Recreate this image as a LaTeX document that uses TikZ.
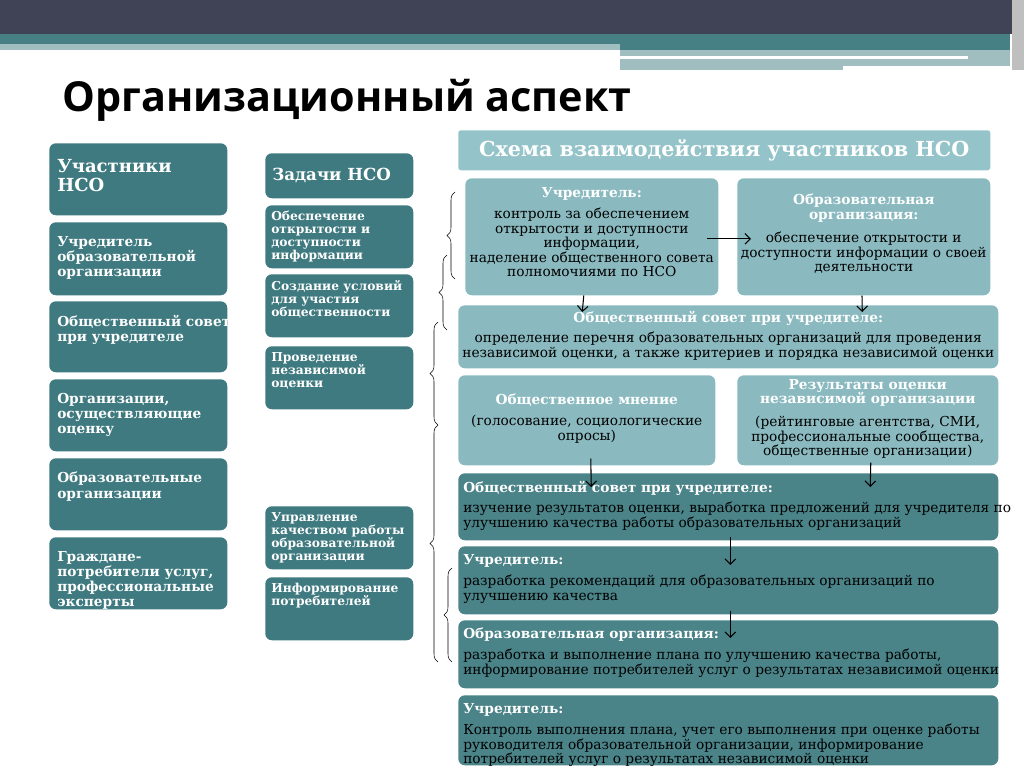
\documentclass[tikz,border=0pt]{standalone}
\usepackage{fontspec}
\setmainfont{DejaVu Serif}
\newfontfamily\titlefont{Open Sans}
\usetikzlibrary{arrows.meta,decorations.pathreplacing,calc}
\definecolor{topbar}{RGB}{64,66,86}
\definecolor{tealband}{RGB}{70,128,132}
\definecolor{paleband}{RGB}{160,190,192}
\definecolor{darkteal}{RGB}{63,122,128}
\definecolor{lightteal}{RGB}{138,186,192}
\definecolor{headteal}{RGB}{148,196,201}
\definecolor{midteal}{RGB}{74,131,136}
\tikzset{
  box/.style={rounded corners=5pt, minimum width=#1*0.75pt, inner sep=0pt, anchor=north west},
  darkbox/.style={box=#1, fill=darkteal},
  lightbox/.style={box=#1, fill=lightteal},
  lowbox/.style={box=#1, fill=midteal},
  tall/.style={minimum height=#1*0.75pt},
  wtitle/.style={text=white, font=\bfseries\fontsize{10.3}{10.8}\selectfont, align=left, anchor=north west, inner sep=0pt},
  ctitle/.style={text=white, font=\bfseries\fontsize{10.3}{10.8}\selectfont, align=center, anchor=north, inner sep=0pt},
  body/.style={text=black, font=\fontsize{10.3}{10.8}\selectfont, inner sep=0pt},
  flow/.style={-{Straight Barb[length=4pt]}, thick},
  bracket/.style={decorate, decoration={brace, amplitude=6pt}, thin}
}
\begin{document}
\begin{tikzpicture}[x=0.75pt, y=-0.75pt]
  \useasboundingbox (0,0) rectangle (1024,768);
  % Top bars
  \fill[topbar] (0,0) rectangle (1024,34);
  \fill[tealband] (0,34) rectangle (1010,50);
  \fill[paleband] (0,44) rectangle (620,50);
  \fill[paleband] (620,50) rectangle (1010,70);
  \fill[white] (620,56) rectangle (968,59);
  \fill[white] (843,66) rectangle (1010,70);
  \fill[gray!50] (1012,0) rectangle (1024,70);

  % Title
  \node[font=\titlefont\bfseries\fontsize{31}{34}\selectfont, anchor=west] (title) at (58,100) {Организационный аспект};

  % Left column: participants
  \node[darkbox=178, tall=72] (p0) at (49,143) {};
  \node[wtitle, font=\bfseries\fontsize{13.5}{14}\selectfont] at ($(p0.north west)+(8,16)$) {Участники\\НСО};
  \foreach \y/\h/\txt [count=\i] in {
      222/73/{Учредитель\\образовательной\\организации},
      301/71/{Общественный совет\\при учредителе},
      379/72/{Организации,\\осуществляющие\\оценку},
      458/72/{Образовательные\\организации},
      537/72/{Граждане-\\потребители услуг,\\профессиональные\\эксперты}} {
    \node[darkbox=178, tall=\h] (p\i) at (49,\y) {};
    \node[wtitle, font=\bfseries\fontsize{10.3}{11.3}\selectfont] at ($(p\i.north west)+(8,14)$) {\txt};
  }

  % Middle column: tasks
  \node[darkbox=148, tall=45] (t0) at (265,153) {};
  \node[wtitle, font=\bfseries\fontsize{12.5}{13}\selectfont, anchor=west] at ($(t0.west)+(7,0)$) {Задачи НСО};
  \foreach \y/\txt [count=\i] in {
      205/{Обеспечение\\открытости и\\доступности\\информации},
      274/{Создание условий\\для участия\\общественности},
      346/{Проведение\\независимой\\оценки},
      506/{Управление\\качеством работы\\образовательной\\организации},
      577/{Информирование\\потребителей}} {
    \node[darkbox=148, tall=63] (t\i) at (265,\y) {};
    \node[wtitle, font=\bfseries\fontsize{9.2}{9.7}\selectfont] at ($(t\i.north west)+(6,6)$) {\txt};
  }

  % Right scheme
  \node[box=532, tall=40, fill=headteal, rounded corners=2pt] (head) at (458,130) {};
  \node[text=white, font=\bfseries\fontsize{15.5}{16}\selectfont] at (head.center) {Схема взаимодействия участников НСО};

  \node[lightbox=253, tall=117] (u1) at (465,178) {};
  \node[ctitle] at ($(u1.north)+(0,9)$) {Учредитель:};
  \node[body, align=center, anchor=north] at ($(u1.north)+(0,30)$) {контроль за обеспечением\\открытости и доступности\\информации,\\наделение общественного совета\\полномочиями по НСО};

  \node[lightbox=253, tall=117] (eo1) at (737,178) {};
  \node[ctitle] at ($(eo1.north)+(0,16)$) {Образовательная\\организация:};
  \node[body, align=center, anchor=north] at ($(eo1.north)+(0,54)$) {обеспечение открытости и\\доступности информации о своей\\деятельности};

  \node[lightbox=540, tall=63] (os1) at (458,305) {};
  \node[ctitle] at ($(os1.north)+(0,6)$) {Общественный совет при учредителе:};
  \node[body, align=center, anchor=north] at ($(os1.north)+(0,27)$) {определение перечня образовательных организаций для проведения\\независимой оценки, а также критериев и порядка независимой оценки};

  \node[lightbox=257, tall=90] (om) at (458,375) {};
  \node[ctitle] at ($(om.north)+(0,19)$) {Общественное мнение};
  \node[body, align=center, anchor=north] at ($(om.north)+(0,40)$) {(голосование, социологические\\опросы)};

  \node[lightbox=261, tall=90] (res) at (737,375) {};
  \node[ctitle] at ($(res.north)+(0,4)$) {Результаты оценки\\независимой организации};
  \node[body, align=center, anchor=north] at ($(res.north)+(0,41)$) {(рейтинговые агентства, СМИ,\\профессиональные сообщества,\\общественные организации)};

  % Lower dark boxes
  \foreach \y/\h/\ttl/\txt [count=\i] in {
      473/67/{Общественный совет при учредителе:}/{изучение результатов оценки, выработка предложений для учредителя по\\улучшению качества работы образовательных организаций},
      546/68/{Учредитель:}/{разработка рекомендаций для образовательных организаций по\\улучшению качества},
      620/68/{Образовательная организация:}/{разработка и выполнение плана по улучшению качества работы,\\информирование потребителей услуг о результатах независимой оценки},
      695/70/{Учредитель:}/{Контроль выполнения плана, учет его выполнения при оценке работы\\руководителя образовательной организации, информирование\\потребителей услуг о результатах независимой оценки}} {
    \node[lowbox=540, tall=\h] (s\i) at (458,\y) {};
    \node[wtitle] at ($(s\i.north west)+(5,8)$) {\ttl};
    \node[body, align=left, anchor=north west] at ($(s\i.north west)+(5,29)$) {\txt};
  }

  % Arrows
  \coordinate (a1) at ($(u1.east)+(-12,2)$);
  \coordinate (a2) at ($(eo1.west)+(14,2)$);
  \draw[flow] (a1) -- (a2);
  \draw[flow] ($(u1.south)+(-8,0)$) -- ($(os1.north)+(-146,7)$);
  \draw[flow] (eo1.south -| 862,0) -- ($(os1.north)+(134,7)$);
  \draw[flow] ($(om.south)+(4,-7)$) -- ($(s1.north)+(-137,14)$);
  \draw[flow] ($(res.south)+(3,-3)$) -- ($(s1.north)+(142,14)$);
  \draw[flow] ($(s1.south)+(2,-4)$) -- ($(s2.north)+(2,19)$);
  \draw[flow] ($(s2.south)+(2,-4)$) -- ($(s3.north)+(2,18)$);

  % Brackets
  \draw[bracket] (455,279) -- (455,192);
  \draw[bracket] (447,330) -- (447,255);
  \draw[bracket] (438,425) -- (438,322);
  \draw[bracket] (438,662) -- (438,425);
  \draw[bracket] (452,662) -- (452,568);
\end{tikzpicture}
\end{document}
